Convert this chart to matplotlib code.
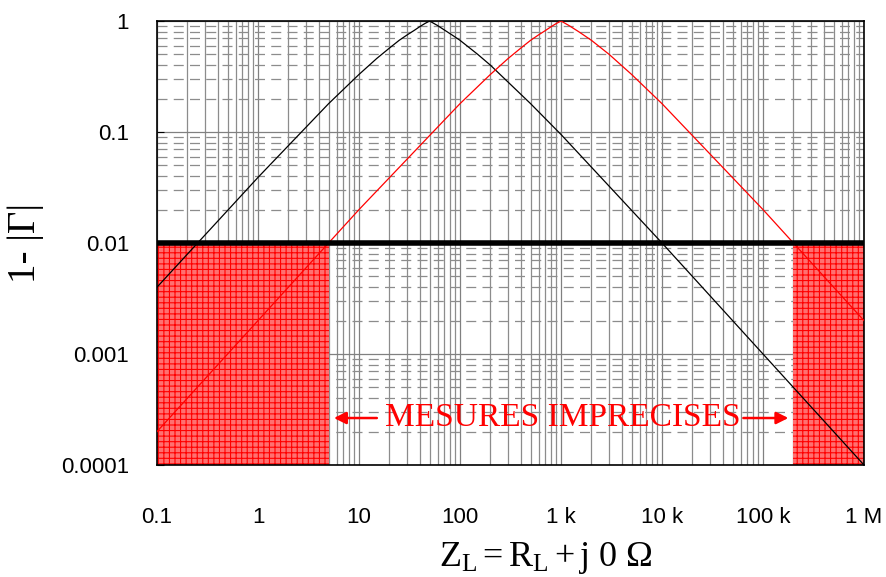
import numpy as np
import matplotlib.pyplot as plt
from matplotlib.ticker import FixedLocator, LogLocator, NullFormatter

# ── Data ─────────────────────────────────────────────────────────────────────
R_BLACK = [0.1, 1, 5, 10, 15, 20, 25, 30, 35, 40, 45, 50, 60, 70, 85, 100,
           150, 200, 500, 1000, 1e4, 1e5, 1e6]
G_BLACK = [0.004, 0.039, 0.18, 0.33, 0.46, 0.57, 0.67, 0.75, 0.82, 0.89,
           0.95, 1.0, 0.91, 0.83, 0.74, 0.67, 0.5, 0.40, 0.18, 0.095,
           0.01, 0.001, 0.0001]

R_RED = [0.1, 1, 10, 100, 200, 300, 400, 500, 600, 700, 800, 900, 1000,
         1200, 1500, 2000, 3000, 5000, 1e4, 1e5, 1e6]
G_RED = [0.0002, 0.002, 0.02, 0.18, 0.33, 0.46, 0.57, 0.67, 0.75, 0.82,
         0.89, 0.95, 1.0, 0.91, 0.8, 0.67, 0.5, 0.33, 0.18, 0.02, 0.002]

LIMIT = 0.01
BAD_ZONES = [(0.1, 5.0), (2e5, 1e6)]

X_TICKS = [0.1, 1, 10, 100, 1e3, 1e4, 1e5, 1e6]
X_LABELS = ["0.1", "1", "10", "100", "1 k", "10 k", "100 k", "1 M"]
Y_TICKS = [1e-4, 1e-3, 1e-2, 1e-1, 1]
Y_LABELS = ["0.0001", "0.001", "0.01", "0.1", "1"]


def main():
    plt.rcParams["font.family"] = ["Liberation Sans", "DejaVu Sans"]
    plt.rcParams["mathtext.fontset"] = "custom"
    plt.rcParams["mathtext.rm"] = "Liberation Serif"
    plt.rcParams["mathtext.it"] = "Liberation Serif:italic"
    plt.rcParams["hatch.linewidth"] = 0.8

    fig = plt.figure(figsize=(8.87, 5.77), dpi=100)
    ax = fig.add_axes([157 / 887, 1 - 465 / 577, 707 / 887, 444 / 577])

    ax.set_xscale("log")
    ax.set_yscale("log")
    ax.set_xlim(0.1, 1e6)
    ax.set_ylim(1e-4, 1)

    # ── Grid ─────────────────────────────────────────────────────────────────
    ax.xaxis.set_minor_locator(LogLocator(base=10, subs=np.arange(2, 10)))
    ax.yaxis.set_minor_locator(LogLocator(base=10, subs=np.arange(2, 10)))
    ax.xaxis.set_minor_formatter(NullFormatter())
    ax.yaxis.set_minor_formatter(NullFormatter())
    ax.grid(True, which="major", axis="both", color="#808080", lw=0.9)
    ax.grid(True, which="minor", axis="x", color="#8c8c8c", lw=0.9)
    ax.grid(True, which="minor", axis="y", color="#8c8c8c", lw=0.9,
            linestyle=(0, (8, 5)))
    ax.set_axisbelow(True)

    # ── Imprecise zones ──────────────────────────────────────────────────────
    for x0, x1 in BAD_ZONES:
        ax.fill_between([x0, x1], 1e-4, LIMIT, facecolor="#ff7070",
                        edgecolor="#ff0000", hatch="+++", lw=0, zorder=2)

    ax.plot(R_BLACK, G_BLACK, color="black", lw=0.9, zorder=3)
    ax.plot(R_RED, G_RED, color="red", lw=0.9, zorder=3)
    ax.axhline(LIMIT, color="black", lw=4, zorder=4)

    # ── Annotation ───────────────────────────────────────────────────────────
    ax.text(1.05e3, 2.65e-4, "MESURES IMPRECISES", color="red", fontsize=24,
            family="Liberation Serif", ha="center", va="center", zorder=5)
    arrow = dict(arrowstyle="-|>", color="red", lw=1.8, mutation_scale=18)
    ax.annotate("", xy=(5.3, 2.65e-4), xytext=(16, 2.65e-4),
                arrowprops=arrow, zorder=5)
    ax.annotate("", xy=(1.9e5, 2.65e-4), xytext=(6e4, 2.65e-4),
                arrowprops=arrow, zorder=5)

    # ── Axes / labels ────────────────────────────────────────────────────────
    ax.xaxis.set_major_locator(FixedLocator(X_TICKS))
    ax.set_xticklabels(X_LABELS, fontsize=16)
    ax.yaxis.set_major_locator(FixedLocator(Y_TICKS))
    ax.set_yticklabels(Y_LABELS, fontsize=16)
    ax.tick_params(axis="x", which="both", length=0, pad=30)
    ax.tick_params(axis="y", which="major", length=5, direction="in", pad=20)
    ax.tick_params(axis="y", which="minor", length=0)
    for s in ax.spines.values():
        s.set_color("black")
        s.set_linewidth(1.2)

    ax.set_ylabel("1- |Γ|", fontsize=28, family="Liberation Serif",
                  labelpad=12)
    ax.set_xlabel(r"$\mathrm{Z_L = R_L + j\ 0\ \Omega}$",
                  fontsize=26, labelpad=8)
    ax.xaxis.set_label_coords(0.55, -0.17)

    fig.savefig("out.png", dpi=100)


if __name__ == "__main__":
    main()
